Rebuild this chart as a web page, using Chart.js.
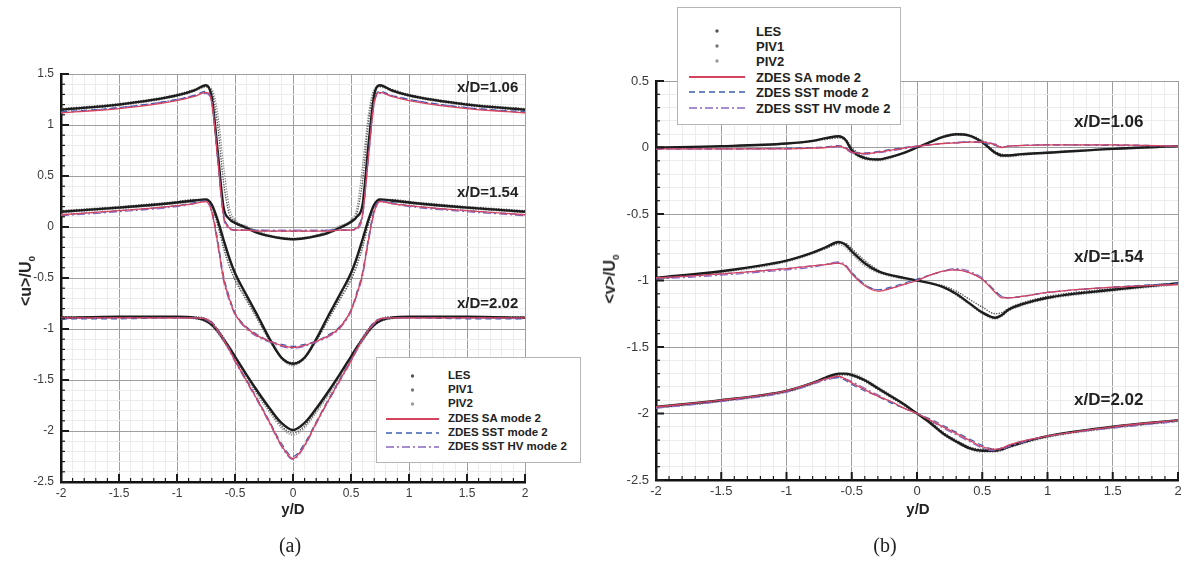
<!DOCTYPE html>
<html>
<head>
<meta charset="utf-8">
<script src="https://cdn.jsdelivr.net/npm/chart.js@4.4.0/dist/chart.umd.min.js"></script>
<style>
  body { margin: 0; background: #fff; width: 1186px; height: 561px; position: relative; overflow: hidden;
         font-family: 'Liberation Sans', Arial, sans-serif; }
  canvas { position: absolute; top: 0; }
  #chartA { left: 0; }
  #chartB { left: 593px; }
  .txt { position: absolute; font-weight: bold; color: #222; white-space: nowrap; }
  .ytitle { transform: translate(-50%, -50%) rotate(-90deg); }
  .ytitle sub { font-size: 0.62em; }
  .cap { position: absolute; font-family: 'Liberation Serif', 'Times New Roman', serif; font-size: 20px; color: #222;
         transform: translate(-50%, -50%); }
  .legend { position: absolute; background: #fff; border: 1px solid #b5b5b5; }
  .legend .row { position: absolute; left: 0; right: 0; height: 12px; }
  .legend svg { position: absolute; top: 0; }
  .legend span { position: absolute; font-weight: bold; color: #222; white-space: nowrap; }
</style>
</head>
<body>
<canvas id="chartA" width="593" height="561"></canvas>
<canvas id="chartB" width="593" height="561"></canvas>

<div class="txt ytitle" style="left:27px; top:281px; font-size:16px;">&lt;u&gt;/U<sub>0</sub></div>
<div class="txt" style="left:293px; top:508px; font-size:15px; transform:translate(-50%,-50%);">y/D</div>
<div class="cap" style="left:290px; top:545px;">(a)</div>
<div class="txt" style="left:457px; top:86px; font-size:15px; transform:translateY(-50%);">x/D=1.06</div>
<div class="txt" style="left:457px; top:191px; font-size:15px; transform:translateY(-50%);">x/D=1.54</div>
<div class="txt" style="left:457px; top:302px; font-size:15px; transform:translateY(-50%);">x/D=2.02</div>

<div class="txt ytitle" style="left:611px; top:279px; font-size:16px;">&lt;v&gt;/U<sub>0</sub></div>
<div class="txt" style="left:918px; top:508px; font-size:15px; transform:translate(-50%,-50%);">y/D</div>
<div class="cap" style="left:885px; top:545px;">(b)</div>
<div class="txt" style="left:1074px; top:122px; font-size:17px; transform:translateY(-50%);">x/D=1.06</div>
<div class="txt" style="left:1074px; top:257px; font-size:17px; transform:translateY(-50%);">x/D=1.54</div>
<div class="txt" style="left:1074px; top:400px; font-size:17px; transform:translateY(-50%);">x/D=2.02</div>

<div class="legend" id="legA" style="left:376px; top:357px; width:203px; height:104px;"></div>
<div class="legend" id="legB" style="left:677px; top:7px; width:222px; height:116px;"></div>

<script>
// y/D positions (panel a and panel b)
const xa = [-2, -1.5, -1, -0.85, -0.75, -0.7, -0.65, -0.6, -0.55, -0.5, -0.4, -0.3, -0.2, -0.1, 0,
            0.1, 0.2, 0.3, 0.4, 0.5, 0.55, 0.6, 0.65, 0.7, 0.75, 0.85, 1, 1.5, 2];
const xb = [-2, -1.5, -1, -0.8, -0.7, -0.6, -0.55, -0.5, -0.4, -0.3, -0.2, -0.1, 0,
            0.1, 0.2, 0.3, 0.4, 0.5, 0.6, 0.65, 0.7, 0.8, 1, 1.5, 2];

const legendLabels = ['LES', 'PIV1', 'PIV2', 'ZDES SA mode 2', 'ZDES SST mode 2', 'ZDES SST HV mode 2'];
const stationNames = ['x/D=1.06', 'x/D=1.54', 'x/D=2.02'];

// (a) <u>/U0
const a106_les  = [1.15, 1.20, 1.29, 1.34, 1.39, 1.27, 0.75, 0.20, 0.08, 0.04, -0.01, -0.06, -0.09, -0.11, -0.12, -0.11, -0.09, -0.06, -0.01, 0.05, 0.10, 0.22, 0.80, 1.29, 1.39, 1.34, 1.29, 1.20, 1.15];
const a106_piv1 = [1.16, 1.21, 1.30, 1.35, 1.38, 1.33, 1.00, 0.45, 0.13, 0.06, 0.00, -0.05, -0.09, -0.11, -0.12, -0.11, -0.08, -0.05, 0.00, 0.06, 0.13, 0.45, 1.02, 1.33, 1.38, 1.35, 1.30, 1.21, 1.16];
const a106_piv2 = [1.14, 1.19, 1.28, 1.33, 1.37, 1.35, 1.12, 0.62, 0.20, 0.07, 0.01, -0.04, -0.08, -0.10, -0.11, -0.10, -0.08, -0.04, 0.01, 0.07, 0.18, 0.60, 1.10, 1.35, 1.37, 1.33, 1.28, 1.19, 1.14];
const a106_sa   = [1.12, 1.16, 1.24, 1.28, 1.32, 1.22, 0.68, 0.12, -0.01, -0.03, -0.03, -0.04, -0.04, -0.04, -0.04, -0.04, -0.04, -0.04, -0.03, -0.03, -0.01, 0.12, 0.68, 1.22, 1.32, 1.28, 1.24, 1.16, 1.12];
const a106_sst  = [1.13, 1.17, 1.25, 1.29, 1.33, 1.24, 0.72, 0.14, 0.00, -0.03, -0.03, -0.03, -0.04, -0.04, -0.04, -0.04, -0.04, -0.03, -0.03, -0.03, 0.00, 0.14, 0.72, 1.24, 1.33, 1.29, 1.25, 1.17, 1.13];
const a106_hv   = [1.12, 1.17, 1.25, 1.29, 1.31, 1.21, 0.66, 0.10, -0.02, -0.03, -0.03, -0.03, -0.03, -0.03, -0.03, -0.03, -0.03, -0.03, -0.03, -0.03, -0.02, 0.10, 0.66, 1.21, 1.31, 1.29, 1.25, 1.17, 1.12];

const a154_les  = [0.15, 0.19, 0.24, 0.26, 0.27, 0.22, 0.07, -0.12, -0.30, -0.45, -0.67, -0.88, -1.10, -1.28, -1.34, -1.28, -1.10, -0.88, -0.67, -0.45, -0.30, -0.12, 0.07, 0.22, 0.27, 0.26, 0.24, 0.19, 0.15];
const a154_piv1 = [0.16, 0.20, 0.25, 0.27, 0.27, 0.20, 0.02, -0.20, -0.38, -0.52, -0.72, -0.92, -1.12, -1.28, -1.33, -1.28, -1.12, -0.92, -0.72, -0.52, -0.38, -0.20, 0.02, 0.20, 0.27, 0.27, 0.25, 0.20, 0.16];
const a154_piv2 = [0.14, 0.18, 0.23, 0.25, 0.26, 0.21, 0.05, -0.16, -0.34, -0.49, -0.70, -0.90, -1.11, -1.29, -1.36, -1.29, -1.11, -0.90, -0.70, -0.49, -0.34, -0.16, 0.05, 0.21, 0.26, 0.25, 0.23, 0.18, 0.14];
const a154_sa   = [0.12, 0.16, 0.21, 0.23, 0.25, 0.15, -0.15, -0.50, -0.70, -0.85, -0.99, -1.07, -1.12, -1.16, -1.18, -1.16, -1.12, -1.07, -0.99, -0.82, -0.66, -0.46, -0.13, 0.15, 0.25, 0.23, 0.21, 0.16, 0.12];
const a154_sst  = [0.12, 0.16, 0.21, 0.24, 0.26, 0.17, -0.12, -0.47, -0.68, -0.84, -0.98, -1.06, -1.12, -1.15, -1.17, -1.15, -1.12, -1.06, -0.98, -0.81, -0.64, -0.44, -0.11, 0.17, 0.26, 0.24, 0.21, 0.16, 0.12];
const a154_hv   = [0.11, 0.15, 0.20, 0.23, 0.25, 0.14, -0.17, -0.52, -0.72, -0.86, -1.00, -1.08, -1.13, -1.17, -1.19, -1.17, -1.13, -1.08, -1.00, -0.83, -0.67, -0.48, -0.15, 0.14, 0.25, 0.23, 0.20, 0.15, 0.11];

const a202_les  = [-0.89, -0.88, -0.88, -0.89, -0.92, -0.96, -1.02, -1.10, -1.18, -1.27, -1.45, -1.62, -1.78, -1.92, -1.99, -1.92, -1.78, -1.62, -1.45, -1.27, -1.18, -1.10, -1.02, -0.96, -0.92, -0.89, -0.88, -0.88, -0.89];
const a202_piv1 = [-0.88, -0.88, -0.88, -0.88, -0.90, -0.94, -1.00, -1.08, -1.17, -1.27, -1.46, -1.64, -1.80, -1.95, -2.02, -1.95, -1.80, -1.64, -1.46, -1.27, -1.17, -1.08, -1.00, -0.94, -0.90, -0.88, -0.88, -0.88, -0.88];
const a202_piv2 = [-0.89, -0.89, -0.89, -0.90, -0.93, -0.97, -1.04, -1.12, -1.21, -1.30, -1.48, -1.66, -1.82, -1.97, -2.04, -1.97, -1.82, -1.66, -1.48, -1.30, -1.21, -1.12, -1.04, -0.97, -0.93, -0.90, -0.89, -0.89, -0.89];
const a202_sa   = [-0.89, -0.89, -0.89, -0.89, -0.90, -0.94, -1.01, -1.10, -1.20, -1.31, -1.51, -1.71, -1.92, -2.14, -2.27, -2.14, -1.92, -1.71, -1.51, -1.31, -1.20, -1.10, -1.01, -0.94, -0.90, -0.89, -0.89, -0.89, -0.89];
const a202_sst  = [-0.90, -0.90, -0.89, -0.89, -0.90, -0.93, -1.00, -1.09, -1.19, -1.30, -1.50, -1.70, -1.91, -2.12, -2.25, -2.12, -1.91, -1.70, -1.50, -1.30, -1.19, -1.09, -1.00, -0.93, -0.90, -0.89, -0.89, -0.90, -0.90];
const a202_hv   = [-0.90, -0.89, -0.89, -0.89, -0.91, -0.95, -1.02, -1.11, -1.21, -1.32, -1.52, -1.72, -1.93, -2.15, -2.28, -2.15, -1.93, -1.72, -1.52, -1.32, -1.21, -1.11, -1.02, -0.95, -0.91, -0.89, -0.89, -0.89, -0.90];

// (b) <v>/U0
const b106_les  = [0.00, 0.01, 0.03, 0.05, 0.07, 0.085, 0.06, -0.02, -0.08, -0.09, -0.07, -0.04, 0.00, 0.04, 0.08, 0.10, 0.09, 0.04, -0.04, -0.06, -0.06, -0.05, -0.04, -0.01, 0.01];
const b106_piv1 = [0.00, 0.01, 0.03, 0.05, 0.065, 0.075, 0.065, 0.00, -0.07, -0.085, -0.07, -0.04, 0.00, 0.04, 0.075, 0.095, 0.09, 0.05, -0.03, -0.05, -0.055, -0.05, -0.035, -0.01, 0.01];
const b106_piv2 = [-0.005, 0.005, 0.025, 0.045, 0.06, 0.07, 0.05, -0.03, -0.09, -0.10, -0.08, -0.04, 0.00, 0.045, 0.085, 0.105, 0.095, 0.045, -0.05, -0.07, -0.07, -0.06, -0.04, -0.015, 0.005];
const b106_sa   = [-0.01, -0.01, -0.01, -0.005, 0.00, 0.01, -0.005, -0.035, -0.045, -0.035, -0.02, -0.005, 0.01, 0.02, 0.03, 0.035, 0.04, 0.04, 0.02, 0.00, 0.01, 0.015, 0.02, 0.02, 0.01];
const b106_sst  = [-0.01, -0.01, -0.005, 0.00, 0.005, 0.015, 0.00, -0.03, -0.04, -0.03, -0.015, 0.00, 0.01, 0.02, 0.03, 0.035, 0.04, 0.035, 0.015, 0.005, 0.01, 0.015, 0.02, 0.02, 0.01];
const b106_hv   = [-0.01, -0.01, -0.01, -0.005, 0.00, 0.005, -0.01, -0.04, -0.05, -0.04, -0.025, -0.01, 0.005, 0.02, 0.03, 0.04, 0.045, 0.045, 0.025, 0.005, 0.01, 0.015, 0.02, 0.015, 0.01];

const b154_les  = [-0.98, -0.93, -0.85, -0.79, -0.75, -0.71, -0.73, -0.78, -0.87, -0.93, -0.96, -0.98, -1.00, -1.02, -1.05, -1.10, -1.17, -1.24, -1.28, -1.26, -1.22, -1.18, -1.13, -1.07, -1.02];
const b154_piv1 = [-0.98, -0.93, -0.85, -0.79, -0.76, -0.72, -0.72, -0.76, -0.85, -0.92, -0.96, -0.98, -1.00, -1.02, -1.04, -1.08, -1.14, -1.20, -1.25, -1.24, -1.21, -1.17, -1.12, -1.06, -1.02];
const b154_piv2 = [-0.99, -0.94, -0.86, -0.80, -0.76, -0.73, -0.75, -0.80, -0.89, -0.94, -0.97, -0.99, -1.00, -1.02, -1.05, -1.11, -1.18, -1.25, -1.29, -1.27, -1.23, -1.19, -1.14, -1.08, -1.03];
const b154_sa   = [-0.98, -0.95, -0.91, -0.89, -0.88, -0.87, -0.89, -0.95, -1.04, -1.08, -1.06, -1.03, -1.00, -0.96, -0.93, -0.92, -0.94, -0.99, -1.09, -1.13, -1.13, -1.12, -1.09, -1.05, -1.03];
const b154_sst  = [-0.98, -0.95, -0.91, -0.89, -0.88, -0.87, -0.89, -0.94, -1.03, -1.07, -1.05, -1.02, -0.99, -0.96, -0.93, -0.92, -0.94, -0.99, -1.08, -1.12, -1.13, -1.12, -1.09, -1.05, -1.02];
const b154_hv   = [-0.99, -0.96, -0.92, -0.90, -0.88, -0.86, -0.88, -0.94, -1.03, -1.07, -1.06, -1.03, -1.00, -0.96, -0.93, -0.91, -0.93, -0.98, -1.08, -1.12, -1.13, -1.12, -1.09, -1.05, -1.03];

const b202_les  = [-1.95, -1.90, -1.83, -1.77, -1.73, -1.70, -1.70, -1.71, -1.75, -1.81, -1.87, -1.93, -2.00, -2.07, -2.15, -2.21, -2.26, -2.28, -2.28, -2.27, -2.25, -2.22, -2.17, -2.10, -2.05];
const b202_piv1 = [-1.95, -1.90, -1.83, -1.77, -1.74, -1.71, -1.71, -1.72, -1.76, -1.82, -1.88, -1.94, -2.00, -2.06, -2.14, -2.20, -2.25, -2.27, -2.27, -2.26, -2.25, -2.22, -2.17, -2.10, -2.05];
const b202_piv2 = [-1.96, -1.91, -1.84, -1.78, -1.74, -1.71, -1.70, -1.70, -1.74, -1.80, -1.86, -1.93, -2.00, -2.08, -2.16, -2.22, -2.27, -2.29, -2.29, -2.28, -2.26, -2.23, -2.18, -2.11, -2.06];
const b202_sa   = [-1.95, -1.90, -1.83, -1.77, -1.74, -1.72, -1.74, -1.77, -1.82, -1.87, -1.91, -1.96, -2.00, -2.05, -2.10, -2.15, -2.20, -2.25, -2.27, -2.26, -2.24, -2.21, -2.17, -2.10, -2.05];
const b202_sst  = [-1.95, -1.90, -1.83, -1.77, -1.74, -1.73, -1.75, -1.78, -1.83, -1.87, -1.92, -1.96, -2.00, -2.04, -2.09, -2.14, -2.19, -2.24, -2.27, -2.26, -2.24, -2.21, -2.17, -2.10, -2.05];
const b202_hv   = [-1.96, -1.91, -1.84, -1.78, -1.75, -1.73, -1.74, -1.76, -1.81, -1.86, -1.91, -1.96, -2.00, -2.05, -2.11, -2.16, -2.21, -2.26, -2.28, -2.27, -2.25, -2.22, -2.17, -2.11, -2.06];

// line styles, one per model (same order as legendLabels)
const models = [
  { key: 'les',  color: '#1d1d1d', width: 2.4, dash: [],           cap: 'butt',  order: 1 },
  { key: 'piv1', color: '#555555', width: 1.6, dash: [0, 2.6],     cap: 'round', order: 2 },
  { key: 'piv2', color: '#8f8f8f', width: 1.6, dash: [0, 2.6],     cap: 'round', order: 2 },
  { key: 'sa',   color: '#d6435f', width: 1.3, dash: [],           cap: 'butt',  order: 0 },
  { key: 'sst',  color: '#3d5db0', width: 1.2, dash: [6, 4],       cap: 'butt',  order: 0 },
  { key: 'hv',   color: '#8a67c0', width: 1.2, dash: [8, 3, 2, 3], cap: 'butt',  order: 0 }
];

const panelA = [
  { les: a106_les, piv1: a106_piv1, piv2: a106_piv2, sa: a106_sa, sst: a106_sst, hv: a106_hv },
  { les: a154_les, piv1: a154_piv1, piv2: a154_piv2, sa: a154_sa, sst: a154_sst, hv: a154_hv },
  { les: a202_les, piv1: a202_piv1, piv2: a202_piv2, sa: a202_sa, sst: a202_sst, hv: a202_hv }
];
const panelB = [
  { les: b106_les, piv1: b106_piv1, piv2: b106_piv2, sa: b106_sa, sst: b106_sst, hv: b106_hv },
  { les: b154_les, piv1: b154_piv1, piv2: b154_piv2, sa: b154_sa, sst: b154_sst, hv: b154_hv },
  { les: b202_les, piv1: b202_piv1, piv2: b202_piv2, sa: b202_sa, sst: b202_sst, hv: b202_hv }
];

function makeSets(xs, panel) {
  const sets = [];
  panel.forEach((st, si) => {
    models.forEach((m, mi) => {
      sets.push({
        label: legendLabels[mi] + ' ' + stationNames[si],
        data: xs.map((x, i) => ({ x: x, y: st[m.key][i] })),
        borderColor: m.color,
        borderWidth: m.width,
        borderDash: m.dash,
        borderCapStyle: m.cap,
        pointRadius: 0,
        fill: false,
        cubicInterpolationMode: 'monotone',
        order: m.order
      });
    });
  });
  return sets;
}

const isMajor = v => Math.abs(v * 2 - Math.round(v * 2)) < 1e-6;
const r1 = v => Math.round(v * 10) / 10;

function axes(ymin, ymax, yWidth, fontSize) {
  const tickFont = { family: "'Liberation Sans', Arial, sans-serif", size: fontSize };
  const fmt = v => { const r = r1(v); return isMajor(r) ? String(r === 0 ? 0 : r) : ''; };
  const grid = { color: c => (c.tick && isMajor(r1(c.tick.value))) ? '#9f9f9f' : '#ececec', lineWidth: 1, drawTicks: false };
  const border = { color: '#111', width: 2.5 };
  return {
    x: { type: 'linear', min: -2, max: 2, afterFit: s => { s.height = 40; },
         ticks: { stepSize: 0.1, autoSkip: false, maxRotation: 0, callback: fmt, font: tickFont, color: '#3a3a3a', padding: 4 },
         grid: grid, border: border },
    y: { type: 'linear', min: ymin, max: ymax, afterFit: s => { s.width = yWidth; },
         ticks: { stepSize: 0.1, autoSkip: false, callback: fmt, font: tickFont, color: '#3a3a3a', padding: 7 },
         grid: grid, border: border }
  };
}

// tick marks pointing into the plot, long on the 0.5 steps, short in between
const innerTicks = {
  id: 'innerTicks',
  afterDraw(chart) {
    const ctx = chart.ctx, a = chart.chartArea;
    const xs = chart.scales.x, ys = chart.scales.y;
    ctx.save();
    ctx.strokeStyle = '#1a1a1a';
    xs.ticks.forEach(t => {
      const big = isMajor(r1(t.value));
      const p = xs.getPixelForValue(t.value);
      ctx.lineWidth = big ? 2 : 1.2;
      ctx.beginPath(); ctx.moveTo(p, a.bottom); ctx.lineTo(p, a.bottom - (big ? 8 : 4)); ctx.stroke();
    });
    ys.ticks.forEach(t => {
      const big = isMajor(r1(t.value));
      const p = ys.getPixelForValue(t.value);
      ctx.lineWidth = big ? 2 : 1.2;
      ctx.beginPath(); ctx.moveTo(a.left, p); ctx.lineTo(a.left + (big ? 8 : 4), p); ctx.stroke();
    });
    ctx.restore();
  }
};

function build(id, xs, panel, ymin, ymax, yWidth, fontSize, pad) {
  return new Chart(document.getElementById(id), {
    type: 'line',
    data: { datasets: makeSets(xs, panel) },
    options: {
      responsive: false,
      animation: false,
      events: [],
      layout: { padding: pad },
      plugins: { legend: { display: false }, tooltip: { enabled: false } },
      scales: axes(ymin, ymax, yWidth, fontSize)
    },
    plugins: [innerTicks]
  });
}

build('chartA', xa, panelA, -2.5, 1.5, 61, 12, { left: 0, right: 68, top: 74, bottom: 39 });
build('chartB', xb, panelB, -2.5, 0.5, 63, 13, { left: 0, right: 8, top: 81, bottom: 41 });

// legends
function legend(id, rowYs, symLeft, symWidth, textLeft, fontSize) {
  const box = document.getElementById(id);
  legendLabels.forEach((lab, i) => {
    const m = models[i];
    const row = document.createElement('div');
    row.className = 'row';
    row.style.top = (rowYs[i] - 6) + 'px';
    let sym;
    if (i < 3) {
      const shade = ['#555', '#777', '#999'][i];
      sym = '<circle cx="' + (symWidth / 2) + '" cy="6" r="1.7" fill="' + shade + '"/>';
    } else {
      const dash = m.dash.length ? ' stroke-dasharray="' + m.dash.join(' ') + '"' : '';
      sym = '<line x1="0" y1="6" x2="' + symWidth + '" y2="6" stroke="' + m.color + '" stroke-width="' + (i === 3 ? 2 : 1.5) + '"' + dash + '/>';
    }
    row.innerHTML = '<svg width="' + symWidth + '" height="12" style="left:' + symLeft + 'px">' + sym + '</svg>' +
      '<span style="left:' + textLeft + 'px; top:50%; transform:translateY(-50%); font-size:' + fontSize + 'px; line-height:1">' + lab + '</span>';
    box.appendChild(row);
  });
}
legend('legA', [18, 32, 46, 61, 75, 89], 9, 53, 71, 11.5);
legend('legB', [23, 38, 53, 69, 84, 100], 11, 56, 78, 13);
</script>
</body>
</html>
